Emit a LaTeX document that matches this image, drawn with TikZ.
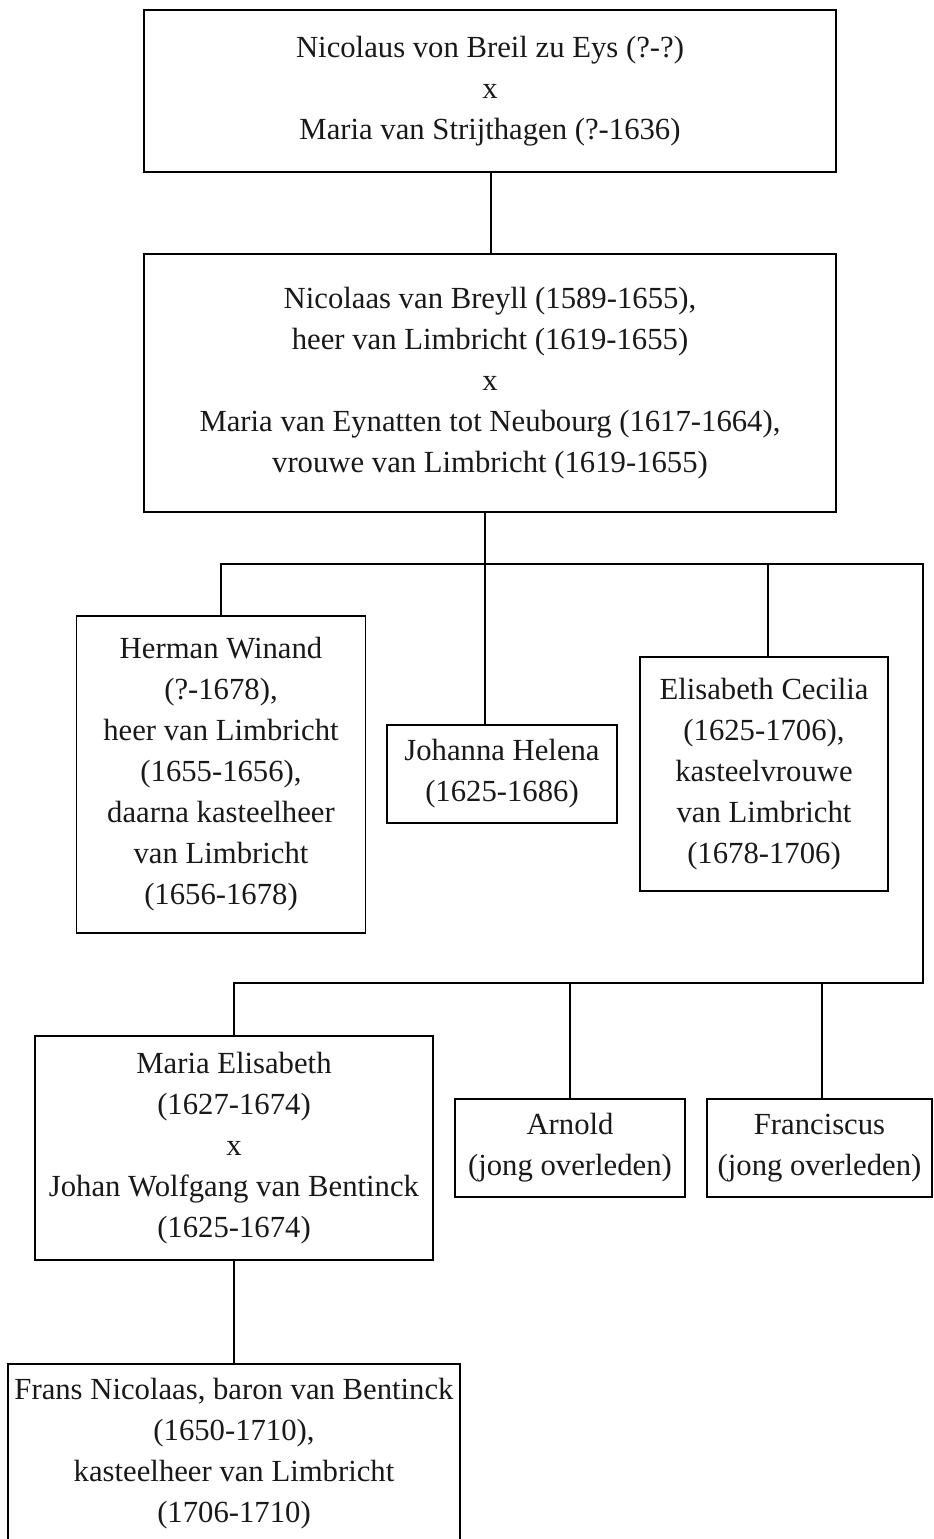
\documentclass[tikz,border=0pt]{standalone}
\usepackage{fontspec}
\setmainfont{Liberation Serif}
\begin{document}
\begin{tikzpicture}[x=1pt,y=-1pt,
  person/.style={draw, line width=1.8pt, inner sep=0pt, align=center,
    font=\fontsize{30.7}{41}\selectfont, text=black!90},
  link/.style={line width=1.8pt}]
\useasboundingbox (0,0) rectangle (934,1539);
% nodes
\node[person, minimum width=692, minimum height=162] (n1) at (490,91)
  {Nicolaus von Breil zu Eys (?-?)\\x\\Maria van Strijthagen (?-1636)};
\node[person, minimum width=692, minimum height=258] (n2) at (490,383)
  {Nicolaas van Breyll (1589-1655),\\heer van Limbricht (1619-1655)\\x\\Maria van Eynatten tot Neubourg (1617-1664),\\vrouwe van Limbricht (1619-1655)};
\node[person, minimum width=289, minimum height=317] (hw) at (221,774.5)
  {Herman Winand\\(?-1678),\\heer van Limbricht\\(1655-1656),\\daarna kasteelheer\\van Limbricht\\(1656-1678)};
\node[person, minimum width=230, minimum height=98] (jh) at (502,774)
  {Johanna Helena\\(1625-1686)};
\node[person, minimum width=248, minimum height=234] (ec) at (764,774)
  {Elisabeth Cecilia\\(1625-1706),\\kasteelvrouwe\\van Limbricht\\(1678-1706)};
\node[person, minimum width=398, minimum height=224] (me) at (234,1148)
  {Maria Elisabeth\\(1627-1674)\\x\\Johan Wolfgang van Bentinck\\(1625-1674)};
\node[person, minimum width=230, minimum height=98] (ar) at (570,1148)
  {Arnold\\(jong overleden)};
\node[person, minimum width=225, minimum height=98] (fr) at (819.5,1148)
  {Franciscus\\(jong overleden)};
\node[person, minimum width=452, minimum height=200, anchor=north] (fn) at (234,1363)
  {\rule{0pt}{0pt}\\[-41pt]Frans Nicolaas, baron van Bentinck\\(1650-1710),\\kasteelheer van Limbricht\\(1706-1710)};
% junction coordinates
\coordinate (j1) at (491,0);
\coordinate (j2) at (485,564);
\coordinate (b1L) at (221,564);
\coordinate (b1R) at (923,564);
\coordinate (b2R) at (923,983);
\coordinate (b2L) at (234,983);
\coordinate (je) at (768,564);
\coordinate (ja) at (570,983);
\coordinate (jf) at (822,983);
% connectors
\draw[link] (j1 |- n1.south) -- (j1 |- n2.north);
\draw[link] (j2 |- n2.south) -- (j2 |- jh.north);
\draw[link] (hw.north) -- (b1L) -- (b1R) -- (b2R) -- (b2L) -- (me.north);
\draw[link] (je) -- (je |- ec.north);
\draw[link] (ja) -- (ja |- ar.north);
\draw[link] (jf) -- (jf |- fr.north);
\draw[link] (me.south) -- (fn.north);
\end{tikzpicture}
\end{document}
